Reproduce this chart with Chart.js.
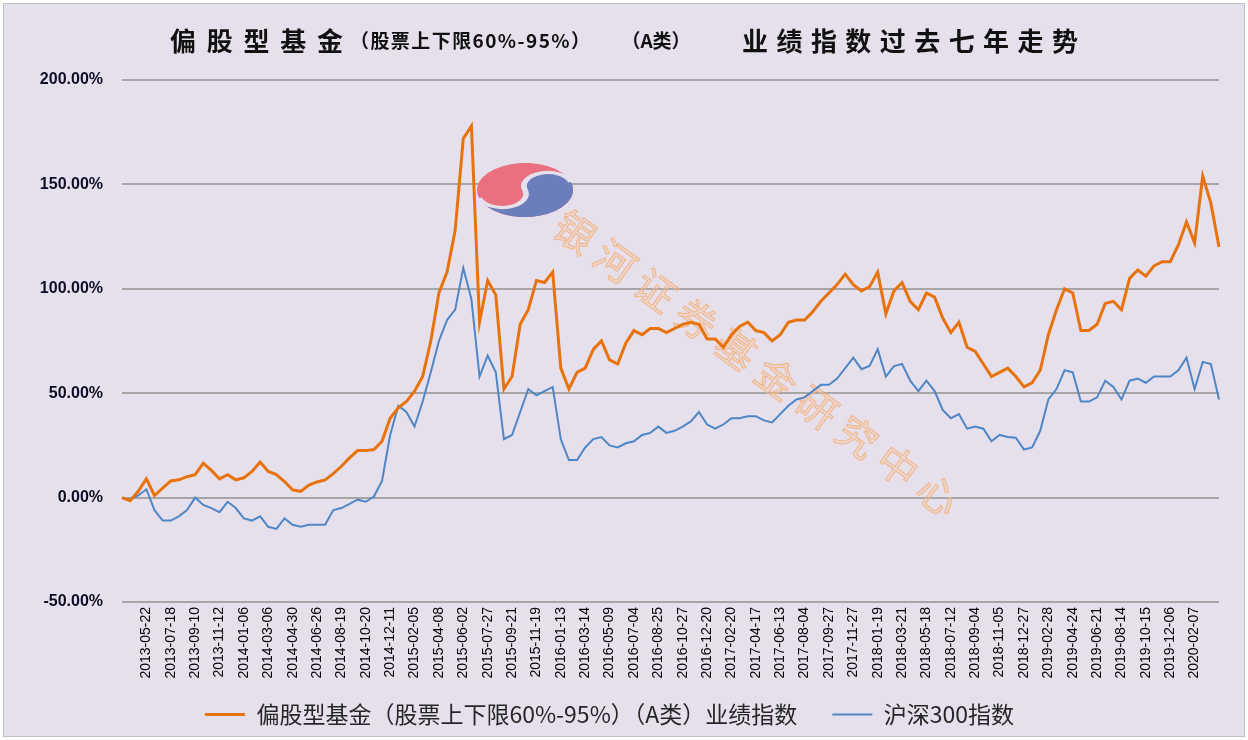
<!DOCTYPE html>
<html>
<head>
<meta charset="utf-8">
<script src="https://cdn.jsdelivr.net/npm/chart.js@4.4.0/dist/chart.umd.min.js"></script>
<style>
body{margin:0;background:#fff;}
canvas{display:block;}
</style>
</head>
<body>
<canvas id="cnv" width="1248" height="740"></canvas>
<script>
// tick dates shown on the x axis (one every 3 points)
var tickDates = ['2013-05-22','2013-07-18','2013-09-10','2013-11-12','2014-01-06','2014-03-06','2014-04-30','2014-06-26','2014-08-19','2014-10-20','2014-12-11','2015-02-05','2015-04-08','2015-06-02','2015-07-27','2015-09-21','2015-11-19','2016-01-13','2016-03-14','2016-05-09','2016-07-04','2016-08-25','2016-10-27','2016-12-20','2017-02-20','2017-04-17','2017-06-13','2017-08-04','2017-09-27','2017-11-27','2018-01-19','2018-03-21','2018-05-18','2018-07-12','2018-09-04','2018-11-05','2018-12-27','2019-02-28','2019-04-24','2019-06-21','2019-08-14','2019-10-15','2019-12-06','2020-02-07'];
var ptsPerTick = 3;

// 偏股型基金 index, %
var fundIdx = [0,-1.5,3,9,1,4.5,8,8.5,10,11,
16.5,13,9,11,8.5,9.5,12.5,17,12.5,11,
7.7,3.7,3,6,7.5,8.5,11.5,15,19,22.5,
22.5,23,27,38,43,46,51,58,75,98,
108,128,172,178,84,104,97,52,58,83,
90,104,103,108,62,52,60,62,71,75,
66,64,74,80,78,81,81,79,81,83,
84,83,76,76,72,78,82,84,80,79,
75,78,84,85,85,89,94,98,102,107,
102,99,101,108,88,99,103,94,90,98,
96,86,79,84,72,70,64,58,60,62,
58,53,55,61,78,90,100,98,80,80,
83,93,94,90,105,109,106,111,113,113,
121,132,122,154,141,120];

// 沪深300 index, %
var hs300 = [0,-1,1,4,-6,-11,-11,-9,-6,0,
-3.5,-5,-7,-2,-5,-10,-11,-9,-14,-15,
-10,-13,-14,-13,-13,-13,-6,-5,-3,-1,
-2,0.5,8,30,44,41,34,46,60,75,
85,90,110,95,58,68,60,28,30,41,
52,49,51,53,28,18,18,24,28,29,
25,24,26,27,30,31,34,31,32,34,
36.5,41,35,33,35,38,38,39,39,37,
36,40,44,47,48,51,54,54,57,62,
67,61.5,63,71,58,63,64,56,51,56,
51,42,38,40,33,34,33,27,30,29,
28.7,23,24,32,47,52,61,60,46,46,
48,56,53,47,56,57,55,58,58,58,
61,67,52,65,64,47];

var yMin = -50, yMax = 200, yStep = 50;

var cats = [];
for (var i = 0; i < fundIdx.length; i++) cats.push('');
for (var k = 0; k < tickDates.length; k++) cats[(k + 1) * ptsPerTick] = tickDates[k];

var titleParts = [
  {text:'偏股型基金', size:26, x0:170, x1:343, just:true},
  {text:'（股票上下限60%-95%）', size:19, x0:350, x1:590, just:true},
  {text:'（A类）', size:19, x0:600, x1:712, just:false},
  {text:'业绩指数过去七年走势', size:26, x0:742, x1:1078, just:true}
];

var bgPlugin = {
  id:'bg',
  beforeDraw:function(chart){
    var c = chart.ctx;
    c.save();
    c.fillStyle = '#ffffff';
    c.fillRect(0,0,chart.width,chart.height);
    c.fillStyle = '#E6E0EC';
    c.fillRect(4,4,chart.width-8,chart.height-8);
    c.strokeStyle = '#BFBFBF';
    c.lineWidth = 1;
    c.strokeRect(3.5,3.5,chart.width-7,chart.height-7);
    c.restore();
  }
};

var titlePlugin = {
  id:'ttl',
  afterDraw:function(chart){
    var c = chart.ctx;
    c.save();
    c.fillStyle = '#111111';
    c.textBaseline = 'middle';
    titleParts.forEach(function(p){
      c.font = 'bold ' + p.size + 'px "Noto Sans CJK SC"';
      var chars = Array.from(p.text);
      var ws = chars.map(function(ch){ return c.measureText(ch).width; });
      var tot = ws.reduce(function(a,b){return a+b;},0);
      var gap = 0, x = p.x0;
      if (p.just && chars.length > 1) gap = (p.x1 - p.x0 - tot) / (chars.length - 1);
      else x = (p.x0 + p.x1 - tot) / 2;
      chars.forEach(function(ch, j){
        c.fillText(ch, x, 41);
        x += ws[j] + gap;
      });
    });
    c.restore();
  }
};

var markPlugin = {
  id:'mark',
  beforeDatasetsDraw:function(chart){
    var c = chart.ctx;
    c.save();
    // logo
    c.translate(525,190);
    c.scale(48,27);
    c.rotate(-0.3);
    c.beginPath(); c.arc(0,0,1,0,Math.PI*2);
    c.fillStyle = '#E8707F'; c.fill();
    c.beginPath();
    c.arc(0,0,1,0,Math.PI,false);
    c.arc(-0.5,0,0.5,Math.PI,0,true);
    c.arc(0.5,0,0.5,Math.PI,Math.PI*2,false);
    c.closePath();
    c.fillStyle = '#6C7DBB'; c.fill();
    c.beginPath();
    c.arc(-0.5,0,0.5,Math.PI,0,true);
    c.arc(0.5,0,0.5,Math.PI,Math.PI*2,false);
    c.strokeStyle = '#E6E0EC'; c.lineWidth = 0.12; c.stroke();
    c.restore();
    // diagonal text
    var txt = Array.from('银河证券基金研究中心');
    var ang = Math.atan2(263,363);
    c.save();
    c.font = '40px "Noto Sans CJK SC"';
    c.textAlign = 'center';
    c.textBaseline = 'middle';
    txt.forEach(function(ch, j){
      c.save();
      c.translate(575 + j*363/9, 232 + j*263/9);
      c.rotate(ang);
      c.fillStyle = 'rgba(247,185,135,0.25)';
      c.fillText(ch,0,0);
      c.strokeStyle = '#F5B583';
      c.lineWidth = 1;
      c.strokeText(ch,0,0);
      c.restore();
    });
    c.restore();
  }
};

var chrt = new Chart(document.getElementById('cnv'), {
  type:'line',
  data:{
    labels:cats,
    datasets:[
      {label:'偏股型基金（股票上下限60%-95%）（A类）业绩指数', data:fundIdx,
       borderColor:'#E8720C', backgroundColor:'#E8720C', borderWidth:3,
       pointRadius:0, tension:0, fill:false, order:1},
      {label:'沪深300指数', data:hs300,
       borderColor:'#4F86C6', backgroundColor:'#4F86C6', borderWidth:2,
       pointRadius:0, tension:0, fill:false, order:2}
    ]
  },
  options:{
    responsive:false,
    animation:false,
    devicePixelRatio:1,
    layout:{padding:{top:80,left:0,right:29,bottom:4}},
    plugins:{
      tooltip:{enabled:false},
      legend:{
        position:'bottom',
        labels:{
          usePointStyle:true, pointStyle:'line', pointStyleWidth:40,
          font:{family:'"Noto Sans CJK SC"', size:23}, color:'#262626',
          padding:12,
          generateLabels:function(ch){
            var items = Chart.defaults.plugins.legend.labels.generateLabels(ch);
            items[0].text = items[0].text + '\u3000';
            return items;
          }
        }
      }
    },
    scales:{
      x:{
        grid:{display:false, drawTicks:false},
        border:{display:false},
        ticks:{autoSkip:false, maxRotation:90, minRotation:90, padding:5,
          font:{family:'"Liberation Sans"', size:14}, color:'#000000'},
        afterFit:function(s){ s.height = 89; }
      },
      y:{
        min:yMin, max:yMax,
        grid:{color:'#A6A6A6', lineWidth:2, drawTicks:false},
        border:{display:false},
        ticks:{stepSize:yStep, padding:19,
          font:{family:'"Liberation Sans"', size:16, weight:'bold'}, color:'#0D0D26',
          callback:function(v){ return v.toFixed(2) + '%'; }},
        afterFit:function(s){ s.width = 122; }
      }
    }
  },
  plugins:[bgPlugin, markPlugin, titlePlugin]
});
</script>
</body>
</html>
